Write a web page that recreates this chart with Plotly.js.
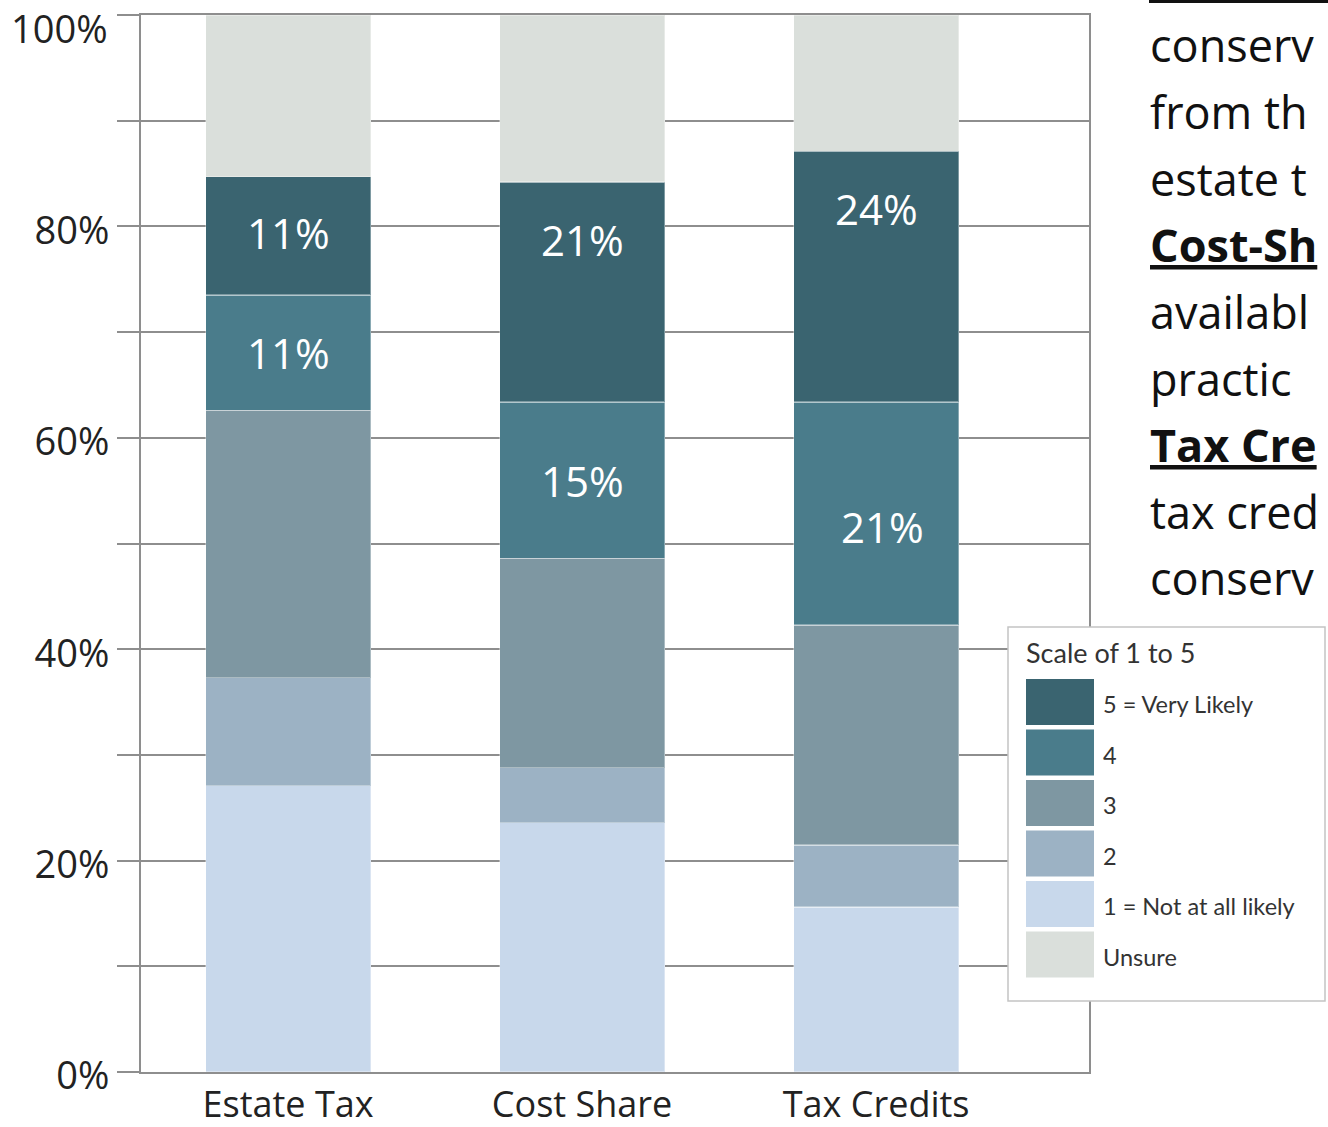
<!DOCTYPE html>
<html>
<head>
<meta charset="utf-8">
<script src="https://cdn.plot.ly/plotly-3.0.1.min.js"></script>
<style>html,body{margin:0;padding:0;background:#fff;overflow:hidden}</style>
</head>
<body>
<div id="chart" style="width:1328px;height:1127px"></div>
<script>
// ---- data ----
const categories = ['Estate Tax', 'Cost Share', 'Tax Credits'];
const seriesNames = ['1 = Not at all likely', '2', '3', '4', '5 = Very Likely', 'Unsure'];
const level1 = [27.1, 23.6, 15.6];
const level2 = [10.2, 5.2, 5.9];
const level3 = [25.3, 19.8, 20.8];
const level4 = [10.9, 14.8, 21.1];
const level5 = [11.2, 20.8, 23.7];
const unsure = [15.3, 15.8, 12.9];
const labels4 = ['11%', '15%', '21%'];
const labels5 = ['11%', '21%', '24%'];
const yTickVals = [0, 10, 20, 30, 40, 50, 60, 70, 80, 90, 100];
const yTickText = ['0%', '', '20%', '', '40%', '', '60%', '', '80%', '', '100%'];
const legendTitle = 'Scale of 1 to 5';
// visible part of the neighbouring paragraph (cropped by the image edge)
const sideLines = ['conserv', 'from th', 'estate t', '<b><u>Cost-Sh</u></b>', 'availabl', 'practic', '<b><u>Tax Cre</u></b>', 'tax cred', 'conserv'];

// ---- style ----
const colors = ['#c8d8eb', '#9cb2c4', '#7e97a2', '#4a7c8b', '#3a6470', '#dadfdb'];
const series = [level1, level2, level3, level4, level5, unsure];
const W = 1328, H = 1127, L = 141, R = 1089, T = 15, B = 1072;
const px = x => (x - L) / (R - L);
const py = y => (B - y) / (B - T);
const gridCol = '#8e8e8e';

const traces = series.map((vals, i) => ({
  type: 'bar', x: categories, y: vals, name: seriesNames[i],
  width: 0.561,
  marker: {color: colors[i], line: {color: 'rgba(255,255,255,0.35)', width: 1.5}},
  hoverinfo: 'skip', showlegend: false
}));

const annotations = [];
const shapes = [];
// bar value labels
const label5Place = ['middle', 'top', 'top'];
categories.forEach((c, i) => {
  const base4 = level1[i] + level2[i] + level3[i];
  const base5 = base4 + level4[i];
  const y4 = i === 2 ? base4 + level4[i] * 0.44 : base4 + level4[i] / 2;
  annotations.push({x: c, y: y4, xref: 'x', yref: 'y', text: labels4[i], showarrow: false,
    xshift: i === 2 ? 6 : 0, font: {family: 'Open Sans', size: 42, color: '#ffffff'}});
  const y5 = label5Place[i] === 'middle' ? base5 + level5[i] / 2 + 0.3 : base5 + level5[i] - 5.4;
  annotations.push({x: c, y: y5, xref: 'x', yref: 'y', text: labels5[i], showarrow: false,
    font: {family: 'Open Sans', size: 42, color: '#ffffff'}});
});

// top tick label drawn as annotation so it stays inside the page
const topIdx = yTickVals.length - 1;
const axisTickText = yTickText.map((t, i) => i === topIdx ? '' : t);
annotations.push({xref: 'paper', yref: 'y', x: px(109), y: yTickVals[topIdx], xanchor: 'right', yanchor: 'top',
  yshift: 14, borderpad: 0, text: yTickText[topIdx], showarrow: false,
  font: {family: 'Open Sans', size: 38, color: '#222'}});

// custom legend box
shapes.push({type: 'rect', xref: 'paper', yref: 'paper', x0: px(1008), x1: px(1325), y0: py(1001), y1: py(627),
  fillcolor: '#ffffff', line: {color: '#c4c4c4', width: 1.5}, layer: 'above'});
annotations.push({xref: 'paper', yref: 'paper', x: px(1024), y: py(652), xanchor: 'left', yanchor: 'middle',
  text: legendTitle, showarrow: false, font: {family: 'Lato', size: 27, color: '#333'}});
const legendOrder = [4, 3, 2, 1, 0, 5];
legendOrder.forEach((si, k) => {
  const top = 679 + k * 50.5;
  shapes.push({type: 'rect', xref: 'paper', yref: 'paper', x0: px(1026), x1: px(1094), y0: py(top + 46), y1: py(top),
    fillcolor: colors[si], line: {width: 0}, layer: 'above'});
  annotations.push({xref: 'paper', yref: 'paper', x: px(1101), y: py(top + 25), xanchor: 'left', yanchor: 'middle',
    text: seriesNames[si], showarrow: false, font: {family: 'Lato', size: 23.5, color: '#333'}});
});

// side text (cropped paragraph)
sideLines.forEach((t, k) => {
  annotations.push({xref: 'paper', yref: 'paper', x: px(1148), y: py(45 + k * 66.6), xanchor: 'left', yanchor: 'middle',
    text: t, showarrow: false, font: {family: 'Open Sans', size: 45, color: '#111'}});
});
shapes.push({type: 'line', xref: 'paper', yref: 'paper', x0: px(1149), x1: px(1340), y0: py(1.5), y1: py(1.5),
  line: {color: '#111', width: 3}, layer: 'above'});

const layout = {
  width: W, height: H,
  margin: {l: L, r: W - R, t: T, b: H - B, pad: 0},
  paper_bgcolor: '#ffffff', plot_bgcolor: '#ffffff',
  barmode: 'stack',
  font: {family: 'Open Sans', color: '#222'},
  xaxis: {type: 'category', range: [-0.5, 2.724], showgrid: false, ticks: '', zeroline: false,
    showline: true, linecolor: gridCol, linewidth: 2, mirror: true,
    tickfont: {family: 'Open Sans', size: 36, color: '#222'}, automargin: false, fixedrange: true},
  yaxis: {range: [0, 100], tickmode: 'array', tickvals: yTickVals, ticktext: axisTickText,
    ticks: 'outside', ticklen: 22, tickwidth: 2, tickcolor: gridCol,
    showgrid: true, gridcolor: gridCol, gridwidth: 2, zeroline: false,
    showline: true, linecolor: gridCol, linewidth: 2, mirror: true,
    ticklabeloverflow: 'allow', ticklabelshift: 4,
    tickfont: {family: 'Open Sans', size: 38, color: '#222'}, automargin: false, fixedrange: true},
  shapes: shapes,
  annotations: annotations
};

Plotly.newPlot('chart', traces, layout, {displayModeBar: false, staticPlot: true});
</script>
</body>
</html>
